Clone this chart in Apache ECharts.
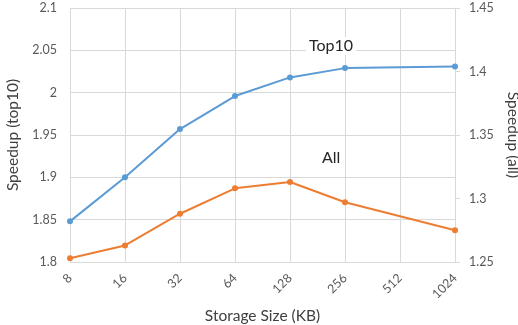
<!DOCTYPE html>
<html><head><meta charset="utf-8">
<script src="https://cdn.jsdelivr.net/npm/echarts@6/dist/echarts.min.js"></script>
<style>html,body{margin:0;padding:0;background:#fff}#c{width:518px;height:325px}</style>
</head><body><div id="c"></div>
<script>
const categories = ['8','16','32','64','128','256','512','1024'];
const top10 = [1.848, 1.900, 1.957, 1.996, 2.018, 2.029, null, 2.031];
const all = [1.253, 1.263, 1.288, 1.308, 1.313, 1.297, null, 1.275];
const leftTicks = {min: 1.8, max: 2.1, interval: 0.05};
const rightTicks = {min: 1.25, max: 1.45, interval: 0.05};

const FONT = 'Lato';
const TXT = '#595959';
const chart = echarts.init(document.getElementById('c'), null, {renderer: 'canvas'});
chart.setOption({
  animation: false,
  textStyle: {fontFamily: FONT},
  grid: {left: 70, right: 63, top: 8, bottom: 63, containLabel: false, outerBoundsMode: 'none'},
  xAxis: {
    type: 'category', data: categories, boundaryGap: false,
    name: 'Storage Size (KB)', nameLocation: 'middle', nameGap: 38,
    nameTextStyle: {color: '#404040', fontSize: 15.5, fontFamily: FONT},
    axisLine: {lineStyle: {color: '#d9d9d9'}},
    axisTick: {show: false},
    axisLabel: {rotate: 45, color: TXT, fontSize: 12.5, margin: 14, fontFamily: FONT},
    splitLine: {show: true, lineStyle: {color: '#d9d9d9'}}
  },
  yAxis: [{
    type: 'value', min: leftTicks.min, max: leftTicks.max, interval: leftTicks.interval,
    name: 'Speedup (top10)', nameLocation: 'middle', nameGap: 47, nameRotate: 90,
    nameTextStyle: {color: '#404040', fontSize: 15.5, fontFamily: FONT},
    axisLine: {show: false}, axisTick: {show: false},
    axisLabel: {color: TXT, fontSize: 12.5, margin: 13, fontFamily: FONT,
      formatter: v => String(+v.toFixed(2))},
    splitLine: {show: true, lineStyle: {color: '#d9d9d9'}}
  }, {
    type: 'value', min: rightTicks.min, max: rightTicks.max, interval: rightTicks.interval,
    position: 'right',
    name: 'Speedup (all)', nameLocation: 'middle', nameGap: 48, nameRotate: -90,
    nameTextStyle: {color: '#404040', fontSize: 15.5, fontFamily: FONT},
    axisLine: {show: true, lineStyle: {color: '#d9d9d9'}},
    axisTick: {show: true, length: 5, lineStyle: {color: '#d9d9d9'}},
    axisLabel: {color: TXT, fontSize: 12.5, margin: 14, fontFamily: FONT,
      formatter: v => String(+v.toFixed(2))},
    splitLine: {show: false}
  }],
  series: [{
    name: 'Top10', type: 'line', yAxisIndex: 0, data: top10, connectNulls: true,
    symbol: 'circle', symbolSize: 6,
    lineStyle: {color: '#5b9bd5', width: 2}, itemStyle: {color: '#5b9bd5'}
  }, {
    name: 'All', type: 'line', yAxisIndex: 1, data: all, connectNulls: true,
    symbol: 'circle', symbolSize: 6,
    lineStyle: {color: '#ed7d31', width: 2}, itemStyle: {color: '#ed7d31'}
  }],
  graphic: [
    {type: 'text', left: 306, top: 37, z: 10, style: {text: 'Top10', fontSize: 16, fontFamily: FONT, fill: '#262626', backgroundColor: '#fff', padding: [1, 3]}},
    {type: 'text', left: 320, top: 149, z: 10, style: {text: 'All', fontSize: 16, fontFamily: FONT, fill: '#262626', backgroundColor: '#fff', padding: [1, 2]}}
  ]
});
</script></body></html>
